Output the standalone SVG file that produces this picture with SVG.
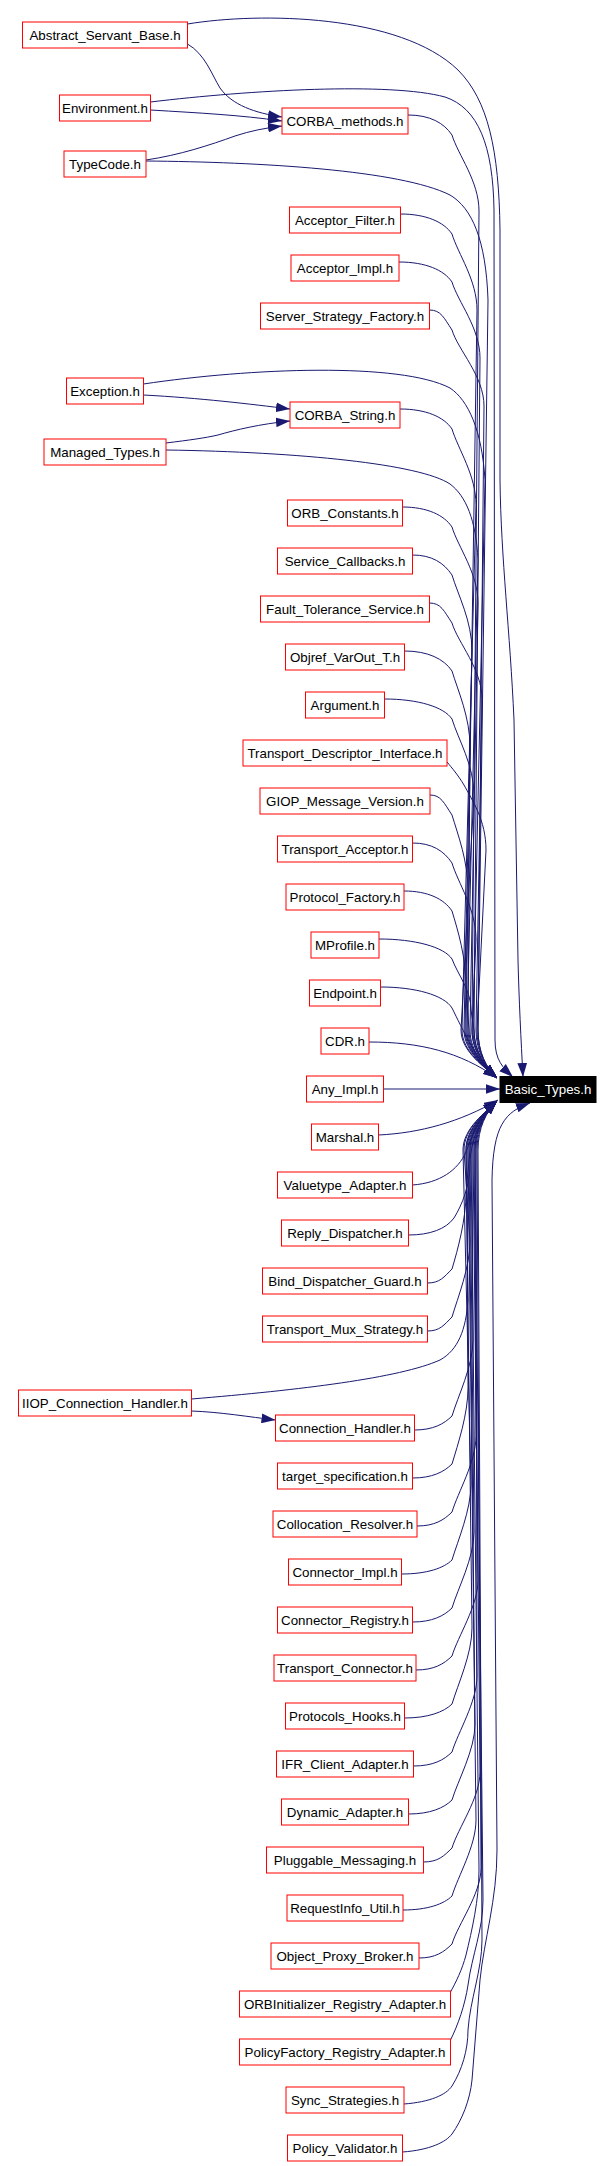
<svg xmlns="http://www.w3.org/2000/svg" width="614" height="2166" viewBox="0 0 614 2166">
<style>
.e{fill:none;stroke:#191970;stroke-width:1;marker-end:url(#ah)}
.n rect{fill:#fff;stroke:#f00;stroke-width:1}
.n text,.b text{font-family:"Liberation Sans",Arial,Helvetica,sans-serif;font-size:13.33px;text-anchor:middle;fill:#000}
.b rect{fill:#000;stroke:#000;stroke-width:1}
.b text{fill:#fff}
</style>
<defs>
<marker id="ah" markerUnits="userSpaceOnUse" markerWidth="14" markerHeight="10" viewBox="0 0 13 9" refX="13" refY="4.5" orient="auto">
<path d="M0,0 L13,4.5 L0,9 z" fill="#191970"/>
</marker>
</defs>
<rect width="614" height="2166" fill="#fff"/>
<g id="connectors">
<path class="e" d="M187.5,44 C205,54 212,75 220,88 C232,105 255,113 282,117"/>
<path class="e" d="M150.5,110 C200,113 240,115 282,121"/>
<path class="e" d="M146,160 C180,155 210,145 235,136 C250,131 265,128 282,126"/>
<path class="e" d="M143.5,395 C200,398 250,404 290,409"/>
<path class="e" d="M166,443 C190,440 205,438 218,435 C235,430 260,424 290,421"/>
<path class="e" d="M191.5,1411 C220,1412 250,1417 275.5,1420"/>
<path class="e" d="M187.5,24 C260,12 400,14 458,70 C488,100 499,150 500,230 L500,480 C501,560 510,630 514,720 L518,960 C519,1000 521,1040 523,1077"/>
<path class="e" d="M150.5,102 C250,90 390,82 445,97 C478,108 493,145 494,210 L495,1040 C495,1060 503,1068 513,1077"/>
<path class="e" d="M146,161 C260,162 400,170 450,195 C472,208 486,240 488,300 L478,1030 C478,1052 486,1068 497,1078"/>
<path class="e" d="M143.5,384 C250,368 400,362 450,388 C468,400 482,430 485,480 L473,1030 C473,1052 486,1068 497,1078"/>
<path class="e" d="M166,450 C300,452 420,464 450,484 C466,496 476,520 478,560 L467,1030 C467,1052 486,1068 497,1078"/>
<path class="e" d="M408,115 C430,115 444,123 452,135 C458,155 479,181 479,211 L472,1030 C472,1052 486,1068 497,1078"/>
<path class="e" d="M400.5,214 C426,214 444,222 452,234 C458,254 477,280 477,310 L466,1030 C466,1052 486,1068 497,1078"/>
<path class="e" d="M399,262 C425.5,262 444,270 452,282 C458,302 480,328 480,358 L474,1030 C474,1052 486,1068 497,1078"/>
<path class="e" d="M429.5,310 C441,310 444,318 452,330 C458,350 484,376 484,406 L478,1030 C478,1052 486,1068 497,1078"/>
<path class="e" d="M400,409 C426,409 444,417 452,429 C458,449 476,475 476,505 L462,1030 C462,1052 486,1068 497,1078"/>
<path class="e" d="M402.5,507 C427,507 444,515 452,527 C458,547 478,573 478,603 L470,1030 C470,1052 486,1068 497,1078"/>
<path class="e" d="M412.5,555 C432,555 444,563 452,575 C458,595 472,621 472,651 L464,1030 C464,1052 486,1068 497,1078"/>
<path class="e" d="M429.5,603 C441,603 444,611 452,623 C458,643 482,669 482,699 L476,1030 C476,1052 486,1068 497,1078"/>
<path class="e" d="M404.5,651 C428,651 444,659 452,671 C458,691 470,717 470,747 L468,1030 C468,1052 486,1068 497,1078"/>
<path class="e" d="M384.5,699 C418,699 444,707 452,719 C458,739 474,765 474,795 L461,1030 C461,1052 486,1068 497,1078"/>
<path class="e" d="M447,762 C452,768 458,775 464,785 C472,800 486,820 486,850 L477,1030 C477,1052 486,1068 497,1078"/>
<path class="e" d="M430,795 C441,795 444,803 452,815 C458,835 468,861 468,891 L465,1030 C465,1052 486,1068 497,1078"/>
<path class="e" d="M412.5,843 C432,843 444,851 452,863 C458,883 476,909 476,939 L472,1030 C472,1052 486,1068 497,1078"/>
<path class="e" d="M404,891 C428,891 444,899 452,911 C458,931 466,957 466,987 L469,1030 C469,1052 486,1068 497,1078"/>
<path class="e" d="M379,939 C415,939 444,947 452,959 C458,975 471,990 471,1010 L474,1030 C474,1052 486,1068 497,1078"/>
<path class="e" d="M380.5,987 C415,987 444,995 452,1008 C462,1028 478,1064 497,1078"/>
<path class="e" d="M369,1042 C420,1042 460,1052 497,1078"/>
<path class="e" d="M383.5,1089 L500,1089"/>
<path class="e" d="M378.5,1135 C420,1133 460,1122 498,1100"/>
<path class="e" d="M412.5,1185 C440,1183 458,1170 466,1152 C472,1135 482,1112 497,1101"/>
<path class="e" d="M408.5,1235 C430,1235 446,1229 454,1218 C462,1205 470,1185 470,1165 C470,1135 486,1112 497,1101"/>
<path class="e" d="M427.5,1283 C440,1283 444,1277 452,1269 C458,1249 466,1219 466,1193 L470,1150 C470,1128 486,1112 497,1101"/>
<path class="e" d="M427.5,1331 C440,1331 444,1325 452,1317 C458,1297 470,1267 470,1241 L464,1150 C464,1128 486,1112 497,1101"/>
<path class="e" d="M191.5,1399 C300,1390 400,1378 440,1360 C458,1350 466,1330 468,1300 L466,1150 C466,1128 486,1112 497,1101"/>
<path class="e" d="M414.5,1430 C433,1430 444,1424 452,1416 C458,1396 473,1366 473,1340 L472,1150 C472,1128 486,1112 497,1101"/>
<path class="e" d="M412.5,1478 C432,1478 444,1472 452,1464 C458,1444 468,1414 468,1388 L467,1150 C467,1128 486,1112 497,1101"/>
<path class="e" d="M417,1526 C434.5,1526 444,1520 452,1512 C458,1492 476,1462 476,1436 L475,1150 C475,1128 486,1112 497,1101"/>
<path class="e" d="M401.5,1574 C427,1574 444,1568 452,1560 C458,1540 471,1510 471,1484 L463,1150 C463,1128 486,1112 497,1101"/>
<path class="e" d="M412.5,1622 C432,1622 444,1616 452,1608 C458,1588 474,1558 474,1532 L470,1150 C470,1128 486,1112 497,1101"/>
<path class="e" d="M416,1670 C434,1670 444,1664 452,1656 C458,1636 478,1606 478,1580 L473,1150 C473,1128 486,1112 497,1101"/>
<path class="e" d="M404.5,1718 C428,1718 444,1712 452,1704 C458,1684 472,1654 472,1628 L466,1150 C466,1128 486,1112 497,1101"/>
<path class="e" d="M413.5,1766 C433,1766 444,1760 452,1752 C458,1732 477,1702 477,1676 L476,1150 C476,1128 486,1112 497,1101"/>
<path class="e" d="M408.5,1814 C430,1814 444,1808 452,1800 C458,1780 475,1750 475,1724 L469,1150 C469,1128 486,1112 497,1101"/>
<path class="e" d="M423.5,1862 C438,1862 444,1856 452,1848 C458,1828 480,1798 480,1772 L474,1150 C474,1128 486,1112 497,1101"/>
<path class="e" d="M403,1910 C427.5,1910 444,1904 452,1896 C458,1876 476,1846 476,1820 L468,1150 C468,1128 486,1112 497,1101"/>
<path class="e" d="M419,1958 C435.5,1958 444,1952 452,1944 C458,1924 481,1894 481,1868 L477,1150 C477,1128 486,1112 497,1101"/>
<path class="e" d="M450.5,1992 C456,1982 462,1970 466,1955 C472,1930 479,1900 479,1870 L471,1150 C471,1128 486,1112 497,1101"/>
<path class="e" d="M450.5,2040 C458,2025 465,2005 468,1985 C472,1955 483,1930 483,1900 L475,1150 C475,1128 486,1112 497,1101"/>
<path class="e" d="M404,2104 C430,2102 446,2095 452,2086 C462,2070 468,2050 468,2030 C470,2000 482,1970 482,1940 L478,1150 C478,1128 486,1112 497,1101"/>
<path class="e" d="M402.5,2152 C430,2150 446,2142 452,2134 C462,2120 470,2100 472,2080 L480,1980 C484,1940 497,1900 497,1850 L492,1180 C493,1125 505,1112 530,1103"/>
</g>
<g id="n_Basic_Types" class="b"><rect x="500" y="1076.5" width="96" height="26"/><text x="548" y="1094">Basic_Types.h</text></g>
<g id="n_Abstract_Servant_Base" class="n"><rect x="22.5" y="22" width="165" height="26"/><text x="105" y="39.5">Abstract_Servant_Base.h</text></g>
<g id="n_Environment" class="n"><rect x="59.5" y="95" width="91" height="26"/><text x="105" y="112.5">Environment.h</text></g>
<g id="n_TypeCode" class="n"><rect x="64" y="151" width="82" height="26"/><text x="105" y="168.5">TypeCode.h</text></g>
<g id="n_Exception" class="n"><rect x="66.5" y="378" width="77" height="26"/><text x="105" y="395.5">Exception.h</text></g>
<g id="n_Managed_Types" class="n"><rect x="44" y="439" width="122" height="26"/><text x="105" y="456.5">Managed_Types.h</text></g>
<g id="n_IIOP_Connection_Handler" class="n"><rect x="18.5" y="1390" width="173" height="26"/><text x="105" y="1407.5">IIOP_Connection_Handler.h</text></g>
<g id="n_CORBA_methods" class="n"><rect x="282" y="108" width="126" height="26"/><text x="345" y="125.5">CORBA_methods.h</text></g>
<g id="n_Acceptor_Filter" class="n"><rect x="289.5" y="207" width="111" height="26"/><text x="345" y="224.5">Acceptor_Filter.h</text></g>
<g id="n_Acceptor_Impl" class="n"><rect x="291" y="255" width="108" height="26"/><text x="345" y="272.5">Acceptor_Impl.h</text></g>
<g id="n_Server_Strategy_Factory" class="n"><rect x="260.5" y="303" width="169" height="26"/><text x="345" y="320.5">Server_Strategy_Factory.h</text></g>
<g id="n_CORBA_String" class="n"><rect x="290" y="402" width="110" height="26"/><text x="345" y="419.5">CORBA_String.h</text></g>
<g id="n_ORB_Constants" class="n"><rect x="287.5" y="500" width="115" height="26"/><text x="345" y="517.5">ORB_Constants.h</text></g>
<g id="n_Service_Callbacks" class="n"><rect x="277.5" y="548" width="135" height="26"/><text x="345" y="565.5">Service_Callbacks.h</text></g>
<g id="n_Fault_Tolerance_Service" class="n"><rect x="260.5" y="596" width="169" height="26"/><text x="345" y="613.5">Fault_Tolerance_Service.h</text></g>
<g id="n_Objref_VarOut_T" class="n"><rect x="285.5" y="644" width="119" height="26"/><text x="345" y="661.5">Objref_VarOut_T.h</text></g>
<g id="n_Argument" class="n"><rect x="305.5" y="692" width="79" height="26"/><text x="345" y="709.5">Argument.h</text></g>
<g id="n_Transport_Descriptor_Interface" class="n"><rect x="243" y="740" width="204" height="26"/><text x="345" y="757.5">Transport_Descriptor_Interface.h</text></g>
<g id="n_GIOP_Message_Version" class="n"><rect x="260" y="788" width="170" height="26"/><text x="345" y="805.5">GIOP_Message_Version.h</text></g>
<g id="n_Transport_Acceptor" class="n"><rect x="277.5" y="836" width="135" height="26"/><text x="345" y="853.5">Transport_Acceptor.h</text></g>
<g id="n_Protocol_Factory" class="n"><rect x="286" y="884" width="118" height="26"/><text x="345" y="901.5">Protocol_Factory.h</text></g>
<g id="n_MProfile" class="n"><rect x="311" y="932" width="68" height="26"/><text x="345" y="949.5">MProfile.h</text></g>
<g id="n_Endpoint" class="n"><rect x="309.5" y="980" width="71" height="26"/><text x="345" y="997.5">Endpoint.h</text></g>
<g id="n_CDR" class="n"><rect x="321" y="1028" width="48" height="26"/><text x="345" y="1045.5">CDR.h</text></g>
<g id="n_Any_Impl" class="n"><rect x="306.5" y="1076" width="77" height="26"/><text x="345" y="1093.5">Any_Impl.h</text></g>
<g id="n_Marshal" class="n"><rect x="311.5" y="1124" width="67" height="26"/><text x="345" y="1141.5">Marshal.h</text></g>
<g id="n_Valuetype_Adapter" class="n"><rect x="277.5" y="1172" width="135" height="26"/><text x="345" y="1189.5">Valuetype_Adapter.h</text></g>
<g id="n_Reply_Dispatcher" class="n"><rect x="281.5" y="1220" width="127" height="26"/><text x="345" y="1237.5">Reply_Dispatcher.h</text></g>
<g id="n_Bind_Dispatcher_Guard" class="n"><rect x="262.5" y="1268" width="165" height="26"/><text x="345" y="1285.5">Bind_Dispatcher_Guard.h</text></g>
<g id="n_Transport_Mux_Strategy" class="n"><rect x="262.5" y="1316" width="165" height="26"/><text x="345" y="1333.5">Transport_Mux_Strategy.h</text></g>
<g id="n_Connection_Handler" class="n"><rect x="275.5" y="1415" width="139" height="26"/><text x="345" y="1432.5">Connection_Handler.h</text></g>
<g id="n_target_specification" class="n"><rect x="277.5" y="1463" width="135" height="26"/><text x="345" y="1480.5">target_specification.h</text></g>
<g id="n_Collocation_Resolver" class="n"><rect x="273" y="1511" width="144" height="26"/><text x="345" y="1528.5">Collocation_Resolver.h</text></g>
<g id="n_Connector_Impl" class="n"><rect x="288.5" y="1559" width="113" height="26"/><text x="345" y="1576.5">Connector_Impl.h</text></g>
<g id="n_Connector_Registry" class="n"><rect x="277.5" y="1607" width="135" height="26"/><text x="345" y="1624.5">Connector_Registry.h</text></g>
<g id="n_Transport_Connector" class="n"><rect x="274" y="1655" width="142" height="26"/><text x="345" y="1672.5">Transport_Connector.h</text></g>
<g id="n_Protocols_Hooks" class="n"><rect x="285.5" y="1703" width="119" height="26"/><text x="345" y="1720.5">Protocols_Hooks.h</text></g>
<g id="n_IFR_Client_Adapter" class="n"><rect x="276.5" y="1751" width="137" height="26"/><text x="345" y="1768.5">IFR_Client_Adapter.h</text></g>
<g id="n_Dynamic_Adapter" class="n"><rect x="281.5" y="1799" width="127" height="26"/><text x="345" y="1816.5">Dynamic_Adapter.h</text></g>
<g id="n_Pluggable_Messaging" class="n"><rect x="266.5" y="1847" width="157" height="26"/><text x="345" y="1864.5">Pluggable_Messaging.h</text></g>
<g id="n_RequestInfo_Util" class="n"><rect x="287" y="1895" width="116" height="26"/><text x="345" y="1912.5">RequestInfo_Util.h</text></g>
<g id="n_Object_Proxy_Broker" class="n"><rect x="271" y="1943" width="148" height="26"/><text x="345" y="1960.5">Object_Proxy_Broker.h</text></g>
<g id="n_ORBInitializer_Registry_Adapter" class="n"><rect x="239.5" y="1991" width="211" height="26"/><text x="345" y="2008.5">ORBInitializer_Registry_Adapter.h</text></g>
<g id="n_PolicyFactory_Registry_Adapter" class="n"><rect x="239.5" y="2039" width="211" height="26"/><text x="345" y="2056.5">PolicyFactory_Registry_Adapter.h</text></g>
<g id="n_Sync_Strategies" class="n"><rect x="286" y="2087" width="118" height="26"/><text x="345" y="2104.5">Sync_Strategies.h</text></g>
<g id="n_Policy_Validator" class="n"><rect x="287.5" y="2135" width="115" height="26"/><text x="345" y="2152.5">Policy_Validator.h</text></g>
</svg>
